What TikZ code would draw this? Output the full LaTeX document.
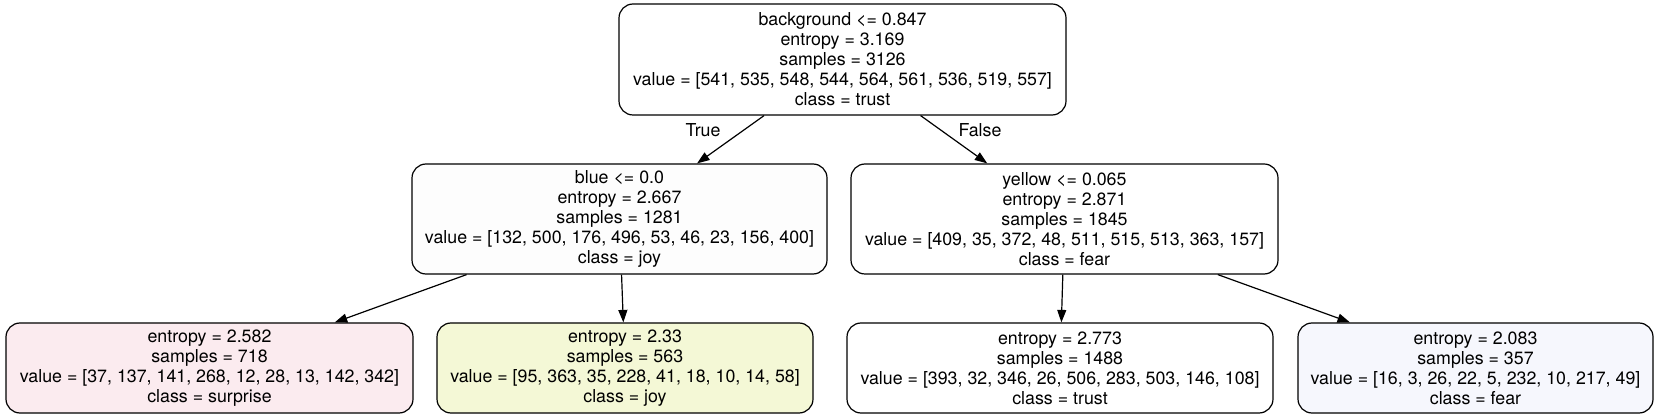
\documentclass[tikz,border=0pt]{standalone}
\usepackage{fontspec}
\setmainfont{TeX Gyre Heros}
\usetikzlibrary{arrows.meta}
\definecolor{pinkfill}{RGB}{251,235,239}
\definecolor{joyfill}{RGB}{244,248,214}
\definecolor{fearfill}{RGB}{246,247,253}
\definecolor{bluefill}{RGB}{253,253,253}
\tikzset{
  treebox/.style={draw=black, line width=1.2pt, rounded corners=14pt, fill=white,
    inner sep=0pt, align=center, font=\fontsize{17.8}{20}\selectfont},
  edge/.style={line width=1.2pt, -{Triangle[length=12.5pt,width=9pt]}},
  elabel/.style={font=\fontsize{17.8}{20}\selectfont, inner sep=0pt}
}
\begin{document}
\begin{tikzpicture}[x=1pt,y=-1pt]
\useasboundingbox (0,0) rectangle (1659,419);
\node[treebox, minimum width=447pt, minimum height=111pt] (root) at (842.5,59.5)
  {background <= 0.847\\entropy = 3.169\\samples = 3126\\value = [541, 535, 548, 544, 564, 561, 536, 519, 557]\\class = trust};
\node[treebox, fill=bluefill, minimum width=415pt, minimum height=110pt] (blue) at (619.5,219)
  {blue <= 0.0\\entropy = 2.667\\samples = 1281\\value = [132, 500, 176, 496, 53, 46, 23, 156, 400]\\class = joy};
\node[treebox, minimum width=427pt, minimum height=110pt] (yellow) at (1064.5,219)
  {yellow <= 0.065\\entropy = 2.871\\samples = 1845\\value = [409, 35, 372, 48, 511, 515, 513, 363, 157]\\class = fear};
\node[treebox, fill=pinkfill, minimum width=407pt, minimum height=90pt] (l1) at (209.5,368)
  {entropy = 2.582\\samples = 718\\value = [37, 137, 141, 268, 12, 28, 13, 142, 342]\\class = surprise};
\node[treebox, fill=joyfill, minimum width=376pt, minimum height=90pt] (l2) at (625,368)
  {entropy = 2.33\\samples = 563\\value = [95, 363, 35, 228, 41, 18, 10, 14, 58]\\class = joy};
\node[treebox, minimum width=426pt, minimum height=90pt] (l3) at (1060,368)
  {entropy = 2.773\\samples = 1488\\value = [393, 32, 346, 26, 506, 283, 503, 146, 108]\\class = trust};
\node[treebox, fill=fearfill, minimum width=355pt, minimum height=90pt] (l4) at (1475.5,368)
  {entropy = 2.083\\samples = 357\\value = [16, 3, 26, 22, 5, 232, 10, 217, 49]\\class = fear};
\draw[edge] (root) -- (blue);
\draw[edge] (root) -- (yellow);
\draw[edge] (blue) -- (l1);
\draw[edge] (blue) -- (l2);
\draw[edge] (yellow) -- (l3);
\draw[edge] (yellow) -- (l4);
\node[elabel] (truelbl) at (703,130) {True};
\node[elabel] (falselbl) at (980,130) {False};
\end{tikzpicture}
\end{document}
